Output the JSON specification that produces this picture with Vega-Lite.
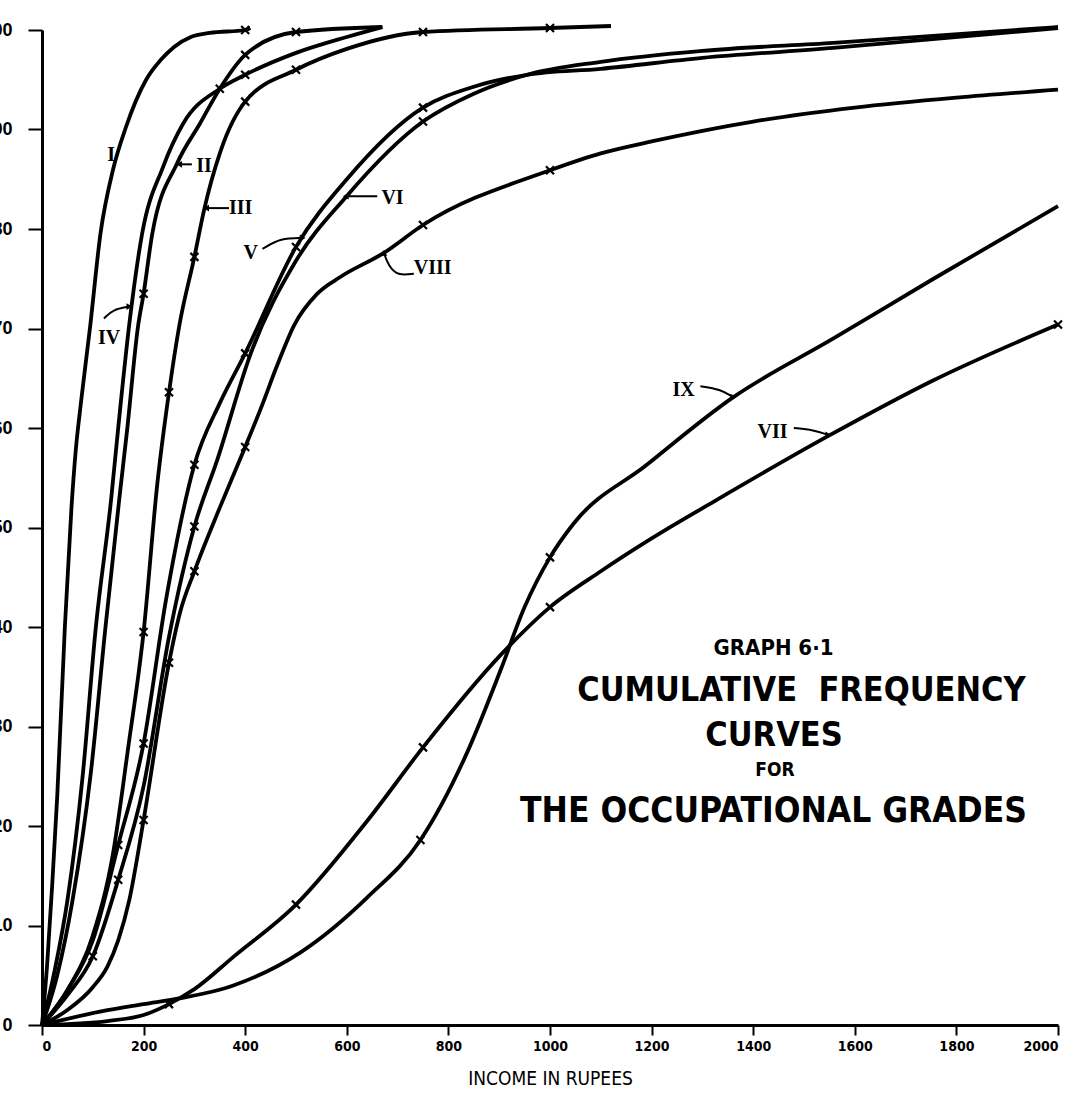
{
  "$schema": "https://vega.github.io/schema/vega-lite/v6.json",
  "width": 1016,
  "height": 995,
  "autosize": {"type": "none"},
  "padding": {"left": 42, "top": 30, "right": 8, "bottom": 76},
  "background": "white",
  "config": {"view": {"stroke": null}, "axis": {"grid": false}},
  "datasets": {
    "curves": [
      {"g":"I","income":0,"pct":0},{"g":"I","income":10,"pct":6},{"g":"I","income":20,"pct":14},{"g":"I","income":30,"pct":23},{"g":"I","income":45,"pct":40},{"g":"I","income":58,"pct":52},{"g":"I","income":66,"pct":57.5},{"g":"I","income":77,"pct":62.7},{"g":"I","income":95,"pct":70.3},{"g":"I","income":115,"pct":79.5},{"g":"I","income":140,"pct":86},{"g":"I","income":165,"pct":90.2},{"g":"I","income":205,"pct":95},{"g":"I","income":234,"pct":97},{"g":"I","income":260,"pct":98.3},{"g":"I","income":293,"pct":99.3},{"g":"I","income":330,"pct":99.7},{"g":"I","income":400,"pct":100,"mk":1},{"g":"I","income":410,"pct":100.2},
      {"g":"II","income":0,"pct":0},{"g":"II","income":30,"pct":5},{"g":"II","income":60,"pct":12.5},{"g":"II","income":96,"pct":25.3},{"g":"II","income":125,"pct":40},{"g":"II","income":152,"pct":52.8},{"g":"II","income":168,"pct":60},{"g":"II","income":189,"pct":70.2},{"g":"II","income":200,"pct":73.5,"mk":1},{"g":"II","income":217,"pct":79.5},{"g":"II","income":266,"pct":86.6},{"g":"II","income":311,"pct":90.6},{"g":"II","income":350,"pct":94.1,"mk":1},{"g":"II","income":400,"pct":97.5,"mk":1},{"g":"II","income":500,"pct":99.8,"mk":1},{"g":"II","income":670,"pct":100.3},
      {"g":"IV","income":0,"pct":0},{"g":"IV","income":25,"pct":5.5},{"g":"IV","income":50,"pct":12.5},{"g":"IV","income":80,"pct":25},{"g":"IV","income":106,"pct":40},{"g":"IV","income":136,"pct":52.8},{"g":"IV","income":150,"pct":60},{"g":"IV","income":172,"pct":70.5},{"g":"IV","income":197,"pct":79.5},{"g":"IV","income":238,"pct":86.2},{"g":"IV","income":278,"pct":90.6},{"g":"IV","income":350,"pct":94.1},{"g":"IV","income":400,"pct":95.5,"mk":1},{"g":"IV","income":500,"pct":97.7},{"g":"IV","income":600,"pct":99.3},{"g":"IV","income":670,"pct":100.3},
      {"g":"III","income":0,"pct":0},{"g":"III","income":50,"pct":3.5},{"g":"III","income":100,"pct":9},{"g":"III","income":139,"pct":17},{"g":"III","income":170,"pct":28},{"g":"III","income":200,"pct":39.5,"mk":1},{"g":"III","income":227,"pct":54.4},{"g":"III","income":250,"pct":63.6,"mk":1},{"g":"III","income":270,"pct":70.2},{"g":"III","income":300,"pct":77.2,"mk":1},{"g":"III","income":319,"pct":81.9},{"g":"III","income":352,"pct":87.9},{"g":"III","income":400,"pct":92.8,"mk":1},{"g":"III","income":500,"pct":96,"mk":1},{"g":"III","income":600,"pct":98.1},{"g":"III","income":750,"pct":99.8,"mk":1},{"g":"III","income":1000,"pct":100.2,"mk":1},{"g":"III","income":1120,"pct":100.4},
      {"g":"V","income":0,"pct":0},{"g":"V","income":50,"pct":3.5},{"g":"V","income":100,"pct":8.5},{"g":"V","income":150,"pct":18.1,"mk":1},{"g":"V","income":200,"pct":28.3,"mk":1},{"g":"V","income":244,"pct":42.7},{"g":"V","income":300,"pct":56.3,"mk":1},{"g":"V","income":350,"pct":62.5},{"g":"V","income":400,"pct":67.5,"mk":1},{"g":"V","income":500,"pct":78.2,"mk":1},{"g":"V","income":600,"pct":85},{"g":"V","income":750,"pct":92.2,"mk":1},{"g":"V","income":850,"pct":94.3},{"g":"V","income":955,"pct":95.5},{"g":"V","income":1100,"pct":96.1},{"g":"V","income":1300,"pct":97.2},{"g":"V","income":1558,"pct":98.2},{"g":"V","income":2000,"pct":100.2},
      {"g":"VI","income":0,"pct":0},{"g":"VI","income":50,"pct":3},{"g":"VI","income":100,"pct":6.9,"mk":1},{"g":"VI","income":150,"pct":14.6,"mk":1},{"g":"VI","income":200,"pct":24},{"g":"VI","income":250,"pct":39},{"g":"VI","income":300,"pct":50.1,"mk":1},{"g":"VI","income":345,"pct":56.8},{"g":"VI","income":411,"pct":67.5},{"g":"VI","income":500,"pct":76.8},{"g":"VI","income":598,"pct":83.2},{"g":"VI","income":750,"pct":90.8,"mk":1},{"g":"VI","income":850,"pct":93.6},{"g":"VI","income":955,"pct":95.5},{"g":"VI","income":1100,"pct":96.8},{"g":"VI","income":1300,"pct":97.9},{"g":"VI","income":1558,"pct":98.7},{"g":"VI","income":2000,"pct":100.3},
      {"g":"VIII","income":0,"pct":0},{"g":"VIII","income":50,"pct":1.5},{"g":"VIII","income":100,"pct":3.8},{"g":"VIII","income":129,"pct":5.9},{"g":"VIII","income":150,"pct":8.5},{"g":"VIII","income":172,"pct":12.6},{"g":"VIII","income":200,"pct":20.6,"mk":1},{"g":"VIII","income":250,"pct":36.4,"mk":1},{"g":"VIII","income":272,"pct":41.5},{"g":"VIII","income":300,"pct":45.6,"mk":1},{"g":"VIII","income":350,"pct":52},{"g":"VIII","income":400,"pct":58.1,"mk":1},{"g":"VIII","income":431,"pct":62},{"g":"VIII","income":463,"pct":66.3},{"g":"VIII","income":496,"pct":70.3},{"g":"VIII","income":542,"pct":73.5},{"g":"VIII","income":588,"pct":75.2},{"g":"VIII","income":673,"pct":77.6},{"g":"VIII","income":750,"pct":80.4,"mk":1},{"g":"VIII","income":1000,"pct":85.9,"mk":1},{"g":"VIII","income":1100,"pct":87.6},{"g":"VIII","income":1200,"pct":88.8},{"g":"VIII","income":1400,"pct":90.8},{"g":"VIII","income":1600,"pct":92.2},{"g":"VIII","income":1800,"pct":93.2},{"g":"VIII","income":2000,"pct":94},
      {"g":"VII","income":0,"pct":0},{"g":"VII","income":129,"pct":0.4},{"g":"VII","income":200,"pct":1},{"g":"VII","income":250,"pct":2.1,"mk":1},{"g":"VII","income":300,"pct":3.6},{"g":"VII","income":378,"pct":6.9},{"g":"VII","income":500,"pct":12.1,"mk":1},{"g":"VII","income":640,"pct":20.5},{"g":"VII","income":750,"pct":27.9,"mk":1},{"g":"VII","income":903,"pct":37.2},{"g":"VII","income":1000,"pct":42,"mk":1},{"g":"VII","income":1100,"pct":45.6},{"g":"VII","income":1200,"pct":48.9},{"g":"VII","income":1329,"pct":52.8},{"g":"VII","income":1548,"pct":59.2},{"g":"VII","income":1755,"pct":64.8},{"g":"VII","income":2000,"pct":70.4,"mk":1},
      {"g":"IX","income":0,"pct":0},{"g":"IX","income":129,"pct":1.5},{"g":"IX","income":200,"pct":2.1},{"g":"IX","income":273,"pct":2.7},{"g":"IX","income":378,"pct":4},{"g":"IX","income":509,"pct":7.3},{"g":"IX","income":640,"pct":12.8},{"g":"IX","income":745,"pct":18.6,"mk":1},{"g":"IX","income":837,"pct":27.4},{"g":"IX","income":903,"pct":35.7},{"g":"IX","income":950,"pct":42},{"g":"IX","income":1000,"pct":47,"mk":1},{"g":"IX","income":1045,"pct":50.3},{"g":"IX","income":1188,"pct":56.2},{"g":"IX","income":1361,"pct":63.1},{"g":"IX","income":1558,"pct":69},{"g":"IX","income":1755,"pct":75},{"g":"IX","income":2000,"pct":82.3}
    ],
    "labels": [
      {"label":"I","income":136,"pct":87.4},
      {"label":"II","income":319,"pct":86.3},
      {"label":"III","income":391,"pct":82.1},
      {"label":"IV","income":132,"pct":69},
      {"label":"V","income":411,"pct":77.6},
      {"label":"VI","income":690,"pct":83.1},
      {"label":"VIII","income":769,"pct":76.1},
      {"label":"IX","income":1263,"pct":63.8},
      {"label":"VII","income":1438,"pct":59.6}
    ],
    "arrows": [
      {"a":"II","o":1,"income":295,"pct":86.5},{"a":"II","o":2,"income":270,"pct":86.5,"head":"left"},
      {"a":"III","o":1,"income":368,"pct":82.1},{"a":"III","o":2,"income":323,"pct":82.1,"head":"left"},
      {"a":"VI","o":1,"income":660,"pct":83.3},{"a":"VI","o":2,"income":598,"pct":83.3,"head":"left"},
      {"a":"V","o":1,"income":434,"pct":78},{"a":"V","o":2,"income":470,"pct":79.1},{"a":"V","o":3,"income":513,"pct":79.1,"head":"right"},
      {"a":"VIII","o":1,"income":732,"pct":75.5},{"a":"VIII","o":2,"income":700,"pct":75.3},{"a":"VIII","o":3,"income":682,"pct":76.3},{"a":"VIII","o":4,"income":673,"pct":77.6,"head":"up"},
      {"a":"IV","o":1,"income":122,"pct":71},{"a":"IV","o":2,"income":139,"pct":71.9},{"a":"IV","o":3,"income":172,"pct":72.2,"head":"right"},
      {"a":"IX","o":1,"income":1296,"pct":64.2},{"a":"IX","o":2,"income":1335,"pct":63.9},{"a":"IX","o":3,"income":1361,"pct":63.1,"head":"right"},
      {"a":"VII","o":1,"income":1480,"pct":60},{"a":"VII","o":2,"income":1519,"pct":59.8},{"a":"VII","o":3,"income":1548,"pct":59.3,"head":"right"}
    ],
    "title": [
      {"text":"GRAPH 6·1","income":1440,"pct":37.9,"line":"a"},
      {"text":"CUMULATIVE\u00a0\u00a0FREQUENCY","income":1495,"pct":33.6,"line":"b"},
      {"text":"CURVES","income":1441,"pct":29,"line":"c"},
      {"text":"FOR","income":1443,"pct":25.6,"line":"d"},
      {"text":"THE\u00a0OCCUPATIONAL\u00a0GRADES","income":1440,"pct":21.5,"line":"e"}
    ]
  },
  "encoding": {
    "x": {
      "field": "income", "type": "quantitative",
      "scale": {"domain": [0, 2000], "nice": false, "zero": true},
      "axis": {
        "values": [0,200,400,600,800,1000,1200,1400,1600,1800,2000],
        "format": "d",
        "tickSize": 10, "tickWidth": 2, "tickColor": "black",
        "domainColor": "black", "domainWidth": 3,
        "labelFont": "DejaVu Sans Condensed, DejaVu Sans",
        "labelFontSize": 14, "labelFontWeight": "bold", "labelColor": "black",
        "labelPadding": 4, "labelFlush": true, "labelOverlap": false,
        "title": "INCOME IN RUPEES",
        "titleFont": "DejaVu Sans Condensed, DejaVu Sans",
        "titleFontSize": 19, "titleFontWeight": "normal", "titleColor": "black",
        "titlePadding": 16
      }
    },
    "y": {
      "field": "pct", "type": "quantitative",
      "scale": {"domain": [0, 100], "nice": false, "zero": true},
      "axis": {
        "values": [0,10,20,30,40,50,60,70,80,90,100],
        "tickSize": 14, "tickWidth": 2, "tickColor": "black",
        "domainColor": "black", "domainWidth": 3,
        "labelFont": "Liberation Sans", "labelFontSize": 18, "labelFontWeight": "bold",
        "labelColor": "black", "labelPadding": 16, "labelFlush": false, "labelOverlap": false,
        "title": null
      }
    }
  },
  "layer": [
    {
      "data": {"name": "curves"},
      "mark": {"type": "line", "interpolate": "monotone", "strokeWidth": 3.8, "color": "black"},
      "encoding": {"detail": {"field": "g", "type": "nominal"}}
    },
    {
      "data": {"name": "curves"},
      "transform": [{"filter": "datum.mk === 1"}],
      "mark": {"type": "point", "shape": "M-1,-1L1,1M-1,1L1,-1", "filled": false, "stroke": "black", "strokeWidth": 2.2, "size": 64, "opacity": 1}
    },
    {
      "data": {"name": "arrows"},
      "mark": {"type": "line", "interpolate": "basis", "strokeWidth": 2, "color": "black"},
      "encoding": {"detail": {"field": "a", "type": "nominal"}, "order": {"field": "o", "type": "quantitative"}}
    },
    {
      "data": {"name": "arrows"},
      "transform": [{"filter": "isValid(datum.head)"}],
      "mark": {"type": "point", "filled": true, "color": "black", "size": 45, "opacity": 1},
      "encoding": {
        "shape": {"field": "head", "type": "nominal", "scale": {"domain": ["left","right","up"], "range": ["triangle-left","triangle-right","triangle-up"]}, "legend": null}
      }
    },
    {
      "data": {"name": "labels"},
      "mark": {"type": "text", "font": "Liberation Serif", "fontWeight": "bold", "fontSize": 20, "color": "black", "align": "center", "baseline": "middle"},
      "encoding": {"text": {"field": "label"}}
    },
    {
      "data": {"name": "title"},
      "mark": {"type": "text", "font": "DejaVu Sans Condensed, DejaVu Sans", "fontWeight": "bold", "color": "black", "align": "center", "baseline": "middle"},
      "encoding": {
        "text": {"field": "text"},
        "size": {"field": "line", "type": "ordinal", "scale": {"type": "ordinal", "domain": ["a","b","c","d","e"], "range": [22, 34, 34, 19, 35]}, "legend": null}
      }
    }
  ]
}
